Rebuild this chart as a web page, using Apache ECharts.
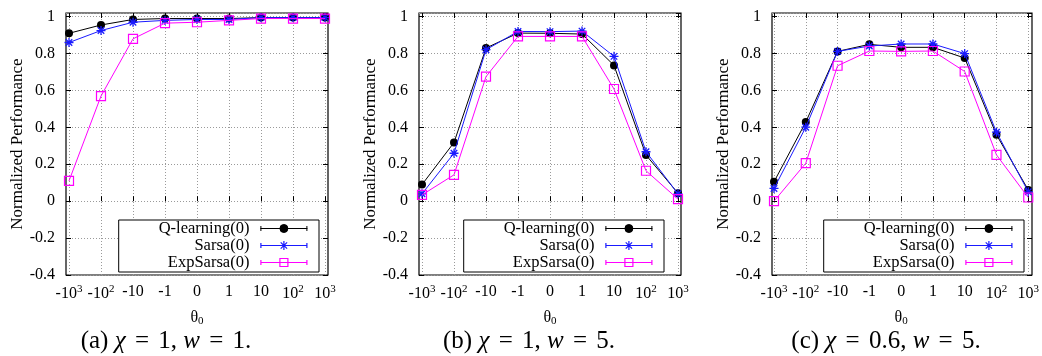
<!DOCTYPE html>
<html><head><meta charset="utf-8">
<script src="https://cdn.jsdelivr.net/npm/echarts@6/dist/echarts.min.js"></script>
<style>html,body{margin:0;padding:0;background:#fff}#c{width:1042px;height:356px}</style>
</head><body><div id="c"></div>
<script>
// ---- data ----
const xLabels = ['-10{sup|3}','-10{sup|2}','-10','-1','0','1','10','10{sup|2}','10{sup|3}'];
const seriesNames = ['Q-learning(0)','Sarsa(0)','ExpSarsa(0)'];
const yTicks = [-0.4,-0.2,0,0.2,0.4,0.6,0.8,1];
const captions = ['(a) {i|χ} {e|=} 1, {i|w} {e|=} 1.','(b) {i|χ} {e|=} 1, {i|w} {e|=} 5.','(c) {i|χ} {e|=} 0.6, {i|w} {e|=} 5.'];

// panel (a)
const qA = [0.91, 0.955, 0.985, 0.99, 0.99, 0.99, 0.995, 0.995, 0.995];
const sA = [0.86, 0.925, 0.97, 0.98, 0.985, 0.985, 0.995, 0.995, 0.995];
const eA = [0.11, 0.57, 0.88, 0.965, 0.97, 0.98, 0.99, 0.99, 0.99];
// panel (b)
const qB = [0.09, 0.318, 0.83, 0.911, 0.91, 0.906, 0.736, 0.25, 0.043];
const sB = [0.04, 0.26, 0.821, 0.92, 0.919, 0.922, 0.785, 0.268, 0.04];
const eB = [0.034, 0.143, 0.675, 0.893, 0.893, 0.893, 0.608, 0.165, 0.011];
// panel (c)
const qC = [0.105, 0.429, 0.812, 0.85, 0.834, 0.834, 0.776, 0.36, 0.061];
const sC = [0.069, 0.401, 0.812, 0.841, 0.852, 0.852, 0.8, 0.374, 0.051];
const eC = [0.0, 0.206, 0.734, 0.814, 0.812, 0.814, 0.703, 0.251, 0.02];

const panelData = [[qA, sA, eA], [qB, sB, eB], [qC, sC, eC]];

// ---- styling / layout ----
const FONT = 'Liberation Serif';
const COLORS = ['#000000', '#1a1aff', '#ff00ff'];
const frames = [{l: 66, r: 328}, {l: 419, r: 681}, {l: 772, r: 1032}];
const dataX = [{l: 69, r: 325}, {l: 422, r: 678}, {l: 774, r: 1031}];
const TOP = 13, BOTTOM = 275, W = 1042, H = 356;
const YMIN = -0.4, YMAX = 1.02;
const legendBoxes = [{right: 319}, {right: 664}, {right: 1024}];
const captionX = [166, 529, 886];

const gridLine = {show: true, lineStyle: {color: '#9a9a9a', width: 1, type: [1, 2]}};
const tickIn = {show: true, inside: true, length: 5, lineStyle: {color: '#000', width: 1}};

const grids = [], xAxes = [], yAxes = [], series = [], legends = [], graphics = [];

const symQ = 'circle';
const symS = 'path://M0,-5L0,5M-5,0L5,0M-3.6,-3.6L3.6,3.6M-3.6,3.6L3.6,-3.6';
const symE = 'path://M-4,-4L4,-4L4,4L-4,4Z';

const pin = 'M0,0M47,14';
const base = 'M0,7L47,7M0.5,4.5L0.5,9.5M46.5,4.5L46.5,9.5';
const iconQ = 'path://' + pin + base + 'M27.5,7A4,4,0,1,1,19.5,7A4,4,0,1,1,27.5,7Z';
const iconS = 'path://' + pin + base + 'M23.5,2.5L23.5,11.5M19,7L28,7M20.3,3.8L26.7,10.2M20.3,10.2L26.7,3.8';
const iconE = 'path://' + pin + base + 'M19.5,3L27.5,3L27.5,11L19.5,11Z';

for (let p = 0; p < 3; p++) {
  const f = frames[p], d = dataX[p];
  grids.push({left: f.l, top: TOP, width: f.r - f.l, height: BOTTOM - TOP, show: true,
    borderColor: '#000', borderWidth: 1.2, backgroundColor: 'transparent'});
  grids.push({left: d.l, top: TOP, width: d.r - d.l, height: BOTTOM - TOP});
  const gA = 2 * p, gB = 2 * p + 1;

  xAxes.push({type: 'value', gridIndex: gA, min: 0, max: 1, show: false});
  xAxes.push({type: 'value', gridIndex: gB, position: 'bottom', min: 0, max: 8, interval: 1,
    axisLine: {show: false}, axisTick: tickIn, splitLine: gridLine,
    axisLabel: {color: '#000', fontFamily: FONT, fontSize: 16, margin: 9,
      formatter: v => xLabels[Math.round(v)],
      rich: {sup: {fontFamily: FONT, fontSize: 11, color: '#000', padding: [0, 0, 8, 0]}}},
    name: '{t|θ}{s|0}', nameLocation: 'middle', nameGap: 33,
    nameTextStyle: {color: '#000', fontFamily: FONT, fontSize: 16,
      rich: {t: {fontFamily: FONT, fontSize: 16, color: '#000'},
             s: {fontFamily: FONT, fontSize: 11, color: '#000', padding: [8, 0, 0, 0]}}}});
  xAxes.push({type: 'value', gridIndex: gB, position: 'top', min: 0, max: 8, interval: 1,
    axisLine: {show: false}, axisTick: tickIn, axisLabel: {show: false}, splitLine: {show: false}});

  yAxes.push({type: 'value', gridIndex: gA, position: 'left', min: YMIN, max: YMAX, interval: 0.2,
    axisLine: {show: false}, axisTick: tickIn, splitLine: gridLine,
    axisLabel: {color: '#000', fontFamily: FONT, fontSize: 16, margin: 11, showMaxLabel: false,
      formatter: v => (yTicks.some(t => Math.abs(t - v) < 1e-6) ? String(+v.toFixed(1)) : '')},
    name: 'Normalized Performance', nameLocation: 'middle', nameGap: 40,
    nameTextStyle: {color: '#000', fontFamily: FONT, fontSize: 17}});
  yAxes.push({type: 'value', gridIndex: gA, position: 'right', min: YMIN, max: YMAX, interval: 0.2,
    axisLine: {show: false}, axisTick: tickIn, axisLabel: {show: false}, splitLine: {show: false}});
  yAxes.push({type: 'value', gridIndex: gB, min: YMIN, max: YMAX, show: false});

  const xi = 3 * p + 1, yi = 3 * p + 2;
  const [q, s, e] = panelData[p];
  series.push({type: 'line', name: seriesNames[0], xAxisIndex: xi, yAxisIndex: yi,
    data: q.map((v, i) => [i, v]), symbol: symQ, symbolSize: 8, color: COLORS[0],
    lineStyle: {color: COLORS[0], width: 1}, itemStyle: {color: COLORS[0], borderWidth: 0}, z: 3});
  series.push({type: 'line', name: seriesNames[1], xAxisIndex: xi, yAxisIndex: yi,
    data: s.map((v, i) => [i, v]), symbol: symS, symbolSize: 9, color: COLORS[1],
    lineStyle: {color: COLORS[1], width: 1}, itemStyle: {color: COLORS[1], borderColor: COLORS[1], borderWidth: 1.3}, z: 4});
  series.push({type: 'line', name: seriesNames[2], xAxisIndex: xi, yAxisIndex: yi,
    data: e.map((v, i) => [i, v]), symbol: symE, symbolSize: 9, color: COLORS[2],
    lineStyle: {color: COLORS[2], width: 1}, itemStyle: {color: 'rgba(0,0,0,0)', borderColor: COLORS[2], borderWidth: 1.2}, z: 5});

  legends.push({orient: 'vertical', align: 'right', right: W - legendBoxes[p].right, bottom: H - 272,
    backgroundColor: '#fff', borderColor: '#000', borderWidth: 1, borderRadius: 0,
    padding: [0, 11, 1, 40], itemGap: 0, itemWidth: 47, itemHeight: 14, selectedMode: false,
    textStyle: {color: '#000', fontFamily: FONT, fontSize: 16.5, lineHeight: 16.5, padding: [0, 6, 0, 0]},
    data: [
      {name: seriesNames[0], icon: iconQ, itemStyle: {color: COLORS[0], borderColor: COLORS[0], borderWidth: 1}},
      {name: seriesNames[1], icon: iconS, itemStyle: {color: COLORS[1], borderColor: COLORS[1], borderWidth: 1.2}},
      {name: seriesNames[2], icon: iconE, itemStyle: {color: 'rgba(0,0,0,0)', borderColor: COLORS[2], borderWidth: 1.2}}
    ]});

  graphics.push({type: 'text', x: captionX[p], y: 341, z: 10,
    style: {text: captions[p], fontFamily: FONT, fontSize: 25, fill: '#000', align: 'center', verticalAlign: 'middle',
      rich: {i: {fontFamily: FONT, fontSize: 25, fontStyle: 'italic', fill: '#000'},
             e: {fontFamily: FONT, fontSize: 25, fill: '#000', padding: [0, 3, 0, 3]}}}});
}

const chart = echarts.init(document.getElementById('c'), null, {renderer: 'canvas'});
chart.setOption({
  animation: false,
  backgroundColor: '#fff',
  grid: grids, xAxis: xAxes, yAxis: yAxes, series: series, legend: legends, graphic: graphics
});
</script>
</body></html>
